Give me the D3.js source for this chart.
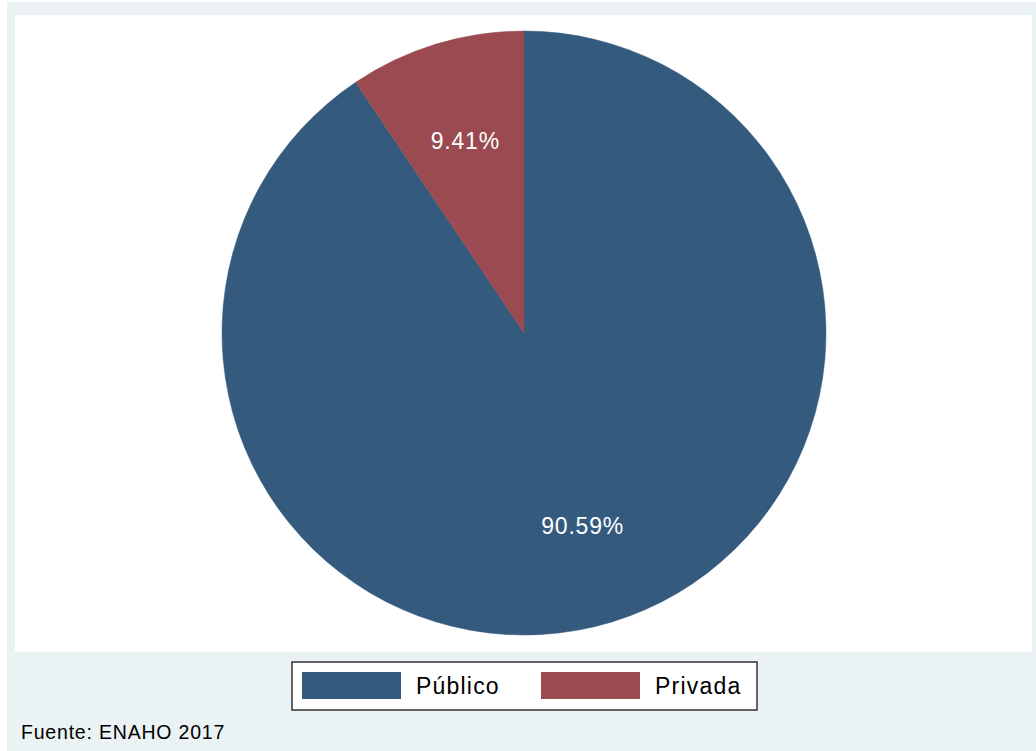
<!DOCTYPE html>
<html><head><meta charset="utf-8">
<script src="https://cdn.jsdelivr.net/npm/d3@7"></script>
<style>html,body{margin:0;padding:0;background:#fff;}svg{display:block;}</style>
</head><body>
<script>
const categories = ["Público", "Privada"];
const values = [90.59, 9.41];
const labels = ["90.59%", "9.41%"];
const colors = ["#345A7E", "#9A4A50"];
const source = "Fuente: ENAHO 2017";

const W = 1036, H = 751;
const svg = d3.select("body").append("svg").attr("width", W).attr("height", H);
const font = "Liberation Sans, Arial, sans-serif";

// graph region
svg.append("rect").attr("x", 7).attr("y", 2).attr("width", W - 7).attr("height", H - 2).attr("fill", "#EAF2F3");
// plot region
svg.append("rect").attr("x", 15).attr("y", 15).attr("width", 1032 - 15).attr("height", 652 - 15).attr("fill", "#fff");

const cx = 524, cy = 333, r = 302;
const pie = d3.pie().sort(null).value(d => d.v);
const data = categories.map((c, i) => ({c, v: values[i], lab: labels[i], col: colors[i]}));
const arcs = pie(data);
const arc = d3.arc().innerRadius(0).outerRadius(r);
const g = svg.append("g").attr("transform", `translate(${cx},${cy})`);
g.selectAll("path").data(arcs).join("path")
  .attr("d", arc).attr("fill", d => d.data.col).attr("stroke", d => d.data.col).attr("stroke-width", 0.5);

const lab = d3.arc().innerRadius(r * 2 / 3).outerRadius(r * 2 / 3);
g.selectAll("text").data(arcs).join("text")
  .attr("transform", d => `translate(${lab.centroid(d)})`)
  .attr("text-anchor", "middle").attr("dy", "0.38em")
  .attr("fill", "#fff").attr("font-family", font).attr("font-size", 23).attr("letter-spacing", 0.8)
  .text(d => d.data.lab);

// legend
const lg = svg.append("g");
lg.append("rect").attr("x", 292).attr("y", 662).attr("width", 465).attr("height", 48)
  .attr("fill", "#fff").attr("stroke", "#333").attr("stroke-width", 1.5);
const legX = d3.scalePoint().domain(categories).range([302, 541]);
const items = lg.selectAll("g.item").data(data).join("g").attr("class", "item")
  .attr("transform", d => `translate(${legX(d.c)},672)`);
items.append("rect").attr("width", 99).attr("height", 27).attr("fill", d => d.col);
items.append("text").attr("x", 114).attr("y", 22).attr("font-family", font).attr("font-size", 23)
  .attr("letter-spacing", 1.2).attr("fill", "#000").text(d => d.c);

svg.append("text").attr("x", 21).attr("y", 739).attr("font-family", font).attr("font-size", 19.5)
  .attr("letter-spacing", 0.8).attr("fill", "#000").text(source);
</script>
</body></html>
